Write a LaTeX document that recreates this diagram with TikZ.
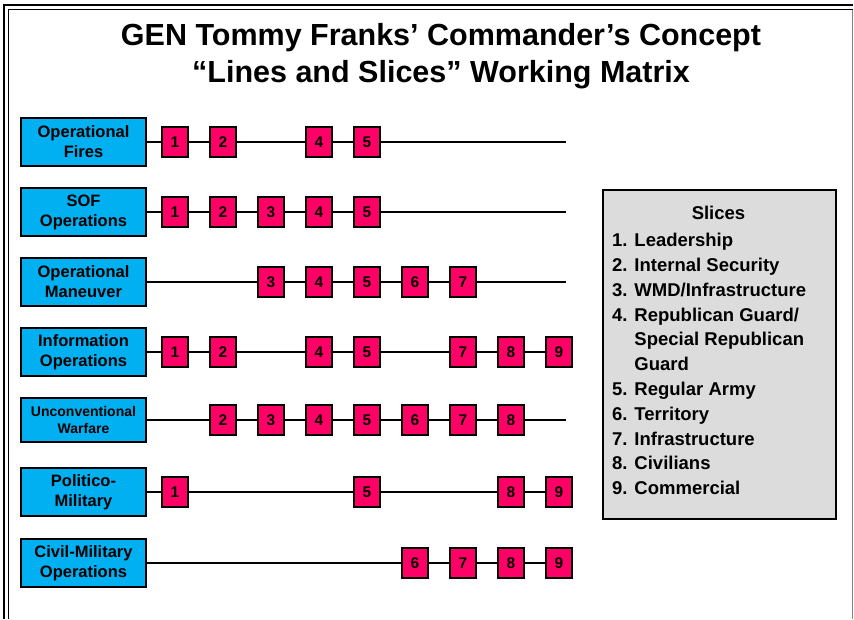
\documentclass[tikz,border=0pt]{standalone}
\usepackage{fontspec}
\setmainfont{Liberation Sans}
\usetikzlibrary{positioning}

\definecolor{laneblue}{HTML}{00B0F0}
\definecolor{slicepink}{HTML}{FF0066}
\definecolor{keygray}{HTML}{DCDCDC}

\begin{document}
\begin{tikzpicture}[
    x=1pt, y=-1pt,
    linebox/.style={draw, line width=1.8pt, fill=laneblue, minimum width=125pt, minimum height=48.5pt, inner sep=1pt, align=center, font=\fontsize{16.5}{20}\selectfont\bfseries},
    slicebox/.style={draw, line width=1.8pt, fill=slicepink, minimum width=25.5pt, minimum height=30.5pt, inner sep=0pt, font=\fontsize{15.5}{18}\selectfont\bfseries},
    lane/.style={line width=1.5pt},
    keybox/.style={draw, line width=1.8pt, fill=keygray, minimum width=233pt, minimum height=329pt, anchor=north west},
    keytext/.style={font=\fontsize{18.5}{24.8}\selectfont\bfseries, align=left, inner sep=0pt}
]
    \useasboundingbox (0,0) rectangle (854,619);

    % ================= FRAME AND TITLE =================
    \draw[line width=2pt] (4,619) -- (4,5) -- (853,5);
    \draw[line width=1.6pt] (8.5,619) -- (8.5,9.5) -- (853,9.5);
    \draw[gray, line width=1.5pt] (852.5,9.5) -- (852.5,619);

    \node[font=\fontsize{30.5}{37}\selectfont\bfseries, align=center] (title) at (441,56) {GEN Tommy Franks’ Commander’s Concept\\“Lines and Slices” Working Matrix};

    % ================= LINES OF OPERATION =================
    \node[linebox] (fires) at (83.5,142) {Operational\\Fires};
    \node[linebox] (sof) at (83.5,212) {SOF\\Operations};
    \node[linebox] (maneuver) at (83.5,282) {Operational\\Maneuver};
    \node[linebox] (info) at (83.5,352) {Information\\Operations};
    \node[linebox, minimum height=44.5pt, font=\fontsize{14}{17}\selectfont\bfseries] (uw) at (83.5,420) {Unconventional\\Warfare};
    \node[linebox] (polmil) at (83.5,492) {Politico-\\Military};
    \node[linebox] (cmo) at (83.5,563) {Civil-Military\\Operations};

    \coordinate (fires-end) at (566,142);
    \coordinate (sof-end) at (566,212);
    \coordinate (maneuver-end) at (566,282);
    \coordinate (uw-end) at (566,420);

    % Slice boxes on each line
    \foreach \s in {1,2,4,5} \node[slicebox] (fires-\s) at ({175+48*(\s-1)},142) {\s};
    \foreach \s in {1,2,3,4,5} \node[slicebox] (sof-\s) at ({175+48*(\s-1)},212) {\s};
    \foreach \s in {3,4,5,6,7} \node[slicebox] (maneuver-\s) at ({175+48*(\s-1)},282) {\s};
    \foreach \s in {1,2,4,5,7,8,9} \node[slicebox] (info-\s) at ({175+48*(\s-1)},352) {\s};
    \foreach \s in {2,3,4,5,6,7,8} \node[slicebox] (uw-\s) at ({175+48*(\s-1)},420) {\s};
    \foreach \s in {1,5,8,9} \node[slicebox] (polmil-\s) at ({175+48*(\s-1)},492) {\s};
    \foreach \s in {6,7,8,9} \node[slicebox] (cmo-\s) at ({175+48*(\s-1)},563) {\s};

    \draw[lane] (fires) -- (fires-1) -- (fires-2) -- (fires-4) -- (fires-5) -- (fires-end);
    \draw[lane] (sof) -- (sof-1) -- (sof-2) -- (sof-3) -- (sof-4) -- (sof-5) -- (sof-end);
    \draw[lane] (maneuver) -- (maneuver-3) -- (maneuver-4) -- (maneuver-5) -- (maneuver-6) -- (maneuver-7) -- (maneuver-end);
    \draw[lane] (info) -- (info-1) -- (info-2) -- (info-4) -- (info-5) -- (info-7) -- (info-8) -- (info-9);
    \draw[lane] (uw) -- (uw-2) -- (uw-3) -- (uw-4) -- (uw-5) -- (uw-6) -- (uw-7) -- (uw-8) -- (uw-end);
    \draw[lane] (polmil) -- (polmil-1) -- (polmil-5) -- (polmil-8) -- (polmil-9);
    \draw[lane] (cmo) -- (cmo-6) -- (cmo-7) -- (cmo-8) -- (cmo-9);

    % ================= SLICES KEY =================
    \node[keybox] (slices) at (602,189) {};
    \node[keytext] (slices-title) at (718.5,213) {Slices};
    \node[keytext, anchor=north west] (slices-list) at (612,233) {1. Leadership\\
        2. Internal Security\\
        3. WMD/Infrastructure\\
        4. Republican Guard/\\
        \hphantom{4. }Special Republican\\
        \hphantom{4. }Guard\\
        5. Regular Army\\
        6. Territory\\
        7. Infrastructure\\
        8. Civilians\\
        9. Commercial};

\end{tikzpicture}
\end{document}
